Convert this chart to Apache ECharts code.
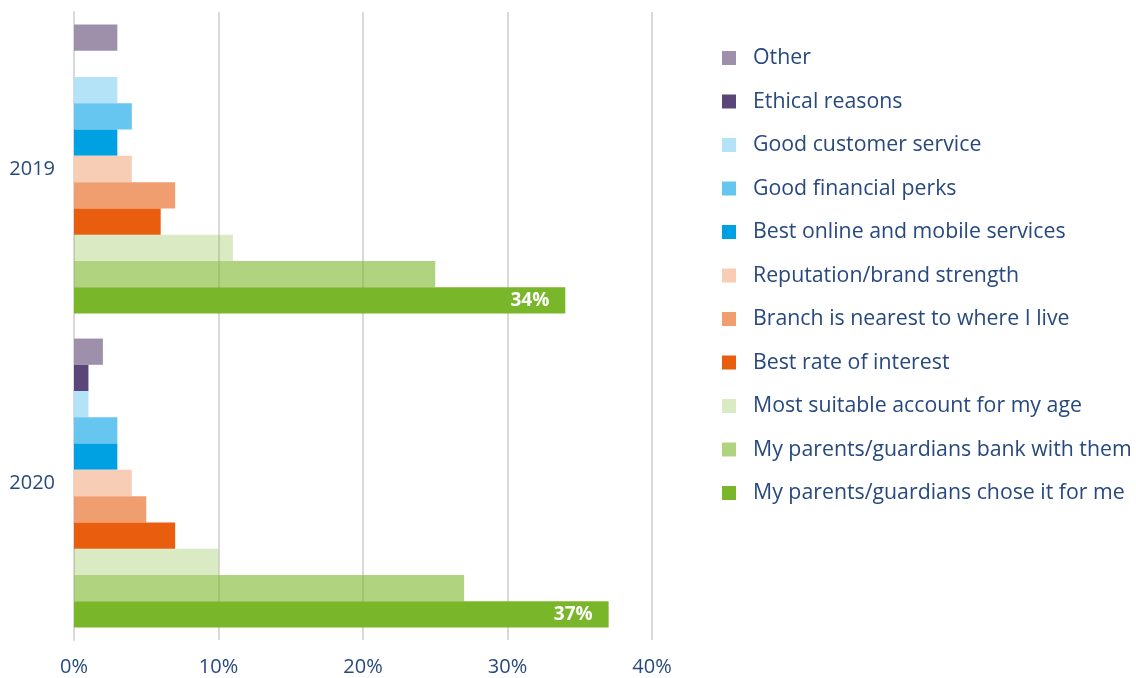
<!DOCTYPE html>
<html>
<head>
<meta charset="utf-8">
<script src="https://cdn.jsdelivr.net/npm/echarts@6/dist/echarts.min.js"></script>
<style>
  html, body { margin: 0; padding: 0; background: #ffffff; }
  #chart { width: 1136px; height: 678px; }
</style>
</head>
<body>
<div id="chart"></div>
<script>
// Reasons for choosing a bank, share of respondents (%)
const years = ['2019', '2020'];
const reasons = [
  'Other',
  'Ethical reasons',
  'Good customer service',
  'Good financial perks',
  'Best online and mobile services',
  'Reputation/brand strength',
  'Branch is nearest to where I live',
  'Best rate of interest',
  'Most suitable account for my age',
  'My parents/guardians bank with them',
  'My parents/guardians chose it for me'
];
const values2019 = [3, 0, 3, 4, 3, 4, 7, 6, 11, 25, 34];
const values2020 = [2, 1, 1, 3, 3, 4, 5, 7, 10, 27, 37];
const xTicks = [0, 10, 20, 30, 40];

const colors = [
  '#9e90ab',
  '#5b4679',
  '#b4e2f6',
  '#66c6f0',
  '#00a1e2',
  '#f8cdb5',
  '#f09e70',
  '#e85d0e',
  'rgba(122,182,42,0.28)',
  'rgba(122,182,42,0.6)',
  '#7ab62a'
];
const textColor = '#27497e';
const fontFamily = '"Open Sans", Lato, sans-serif';
const labelled = 'My parents/guardians chose it for me';

const series = reasons.map((name, i) => ({
  name: name,
  type: 'bar',
  data: [values2019[i], values2020[i]],
  barGap: '0%',
  barCategoryGap: '8%',
  itemStyle: { color: colors[i] },
  label: name === labelled ? {
    show: true,
    position: 'insideRight',
    distance: 16,
    formatter: '{c}%',
    color: '#ffffff',
    fontWeight: 'bold',
    fontSize: 19,
    fontFamily: fontFamily
  } : { show: false }
}));

const chart = echarts.init(document.getElementById('chart'), null, { renderer: 'canvas' });
chart.setOption({
  animation: false,
  backgroundColor: '#ffffff',
  grid: { left: 74, right: 484, top: 12, bottom: 38, containLabel: false },
  xAxis: {
    type: 'value',
    min: xTicks[0],
    max: xTicks[xTicks.length - 1],
    interval: 10,
    axisLine: { show: false },
    axisTick: { show: false },
    axisLabel: {
      formatter: '{value}%',
      color: textColor,
      fontSize: 20,
      fontFamily: fontFamily,
      margin: 17
    },
    splitLine: { lineStyle: { color: '#d9d9d9', width: 2 } }
  },
  yAxis: {
    type: 'category',
    data: years,
    inverse: true,
    axisLine: { lineStyle: { color: '#d9d9d9', width: 2 } },
    axisTick: { show: false },
    axisLabel: {
      color: textColor,
      fontSize: 20,
      fontFamily: fontFamily,
      margin: 19
    }
  },
  legend: {
    orient: 'vertical',
    left: 717,
    top: 41,
    itemWidth: 14,
    itemHeight: 14,
    itemGap: 19.5,
    icon: 'rect',
    data: reasons,
    textStyle: {
      color: textColor,
      fontSize: 21.3,
      fontFamily: fontFamily,
      lineHeight: 24,
      padding: [0, 0, 0, 12]
    }
  },
  series: series
});
</script>
</body>
</html>
